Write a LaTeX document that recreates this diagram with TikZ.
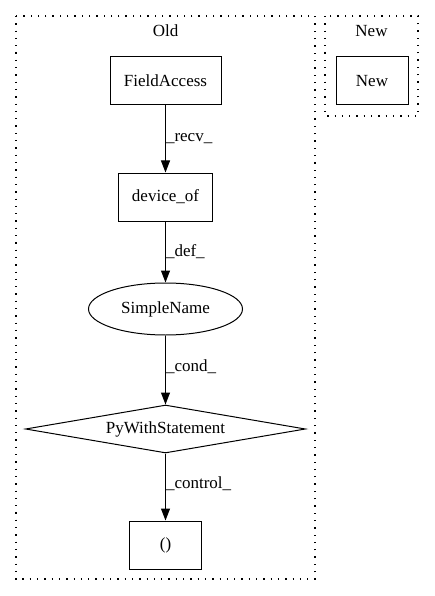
\documentclass[tikz,border=0pt]{standalone}
\usepackage{fontspec}
\setmainfont{Liberation Serif}
\usetikzlibrary{shapes.geometric,arrows.meta}
\begin{document}
\begin{tikzpicture}[x=1pt,y=-1pt,
  every node/.style={font=\fontsize{17pt}{19pt}\selectfont},
  box/.style={draw,line width=1pt,rectangle,inner sep=0pt},
  cluster/.style={draw,line width=1.1pt,dash pattern=on 1.3pt off 6pt},
  edge/.style={draw,line width=1pt,-{Triangle[length=12pt,width=9pt]}},
  lab/.style={anchor=west,inner sep=0pt}]
\useasboundingbox (0,0) rectangle (435,596);
\draw[cluster] (16,16) rectangle (315,579);
\draw[cluster] (325,16) rectangle (418,116);
\node (oldlab) at (165.5,31) {Old};
\node (newlab) at (371.5,31) {New};
\node[box,minimum width=72pt,minimum height=48pt] (new) at (372,81) {New};
\node[box,minimum width=111pt,minimum height=48pt] (fa) at (165.5,81) {FieldAccess};
\node[box,minimum width=94pt,minimum height=48pt] (dev) at (165.5,197) {device\_of};
\node[draw,line width=1pt,ellipse,minimum width=154pt,minimum height=52pt,inner sep=0pt] (sn) at (165.5,309) {SimpleName};
\node[draw,line width=1pt,diamond,aspect=5.8,minimum width=280pt,minimum height=48pt,inner sep=0pt] (pw) at (165.5,429) {PyWithStatement};
\node[box,minimum width=72pt,minimum height=48pt] (par) at (165.5,545) {()};
\draw[edge] (fa) -- node[lab,pos=0.5] {\_recv\_} (dev);
\draw[edge] (dev) -- node[lab,pos=0.5] {\_def\_} (sn);
\draw[edge] (sn) -- node[lab,pos=0.45] {\_cond\_} (pw);
\draw[edge] (pw) -- node[lab,pos=0.45] {\_control\_} (par);
\end{tikzpicture}
\end{document}
